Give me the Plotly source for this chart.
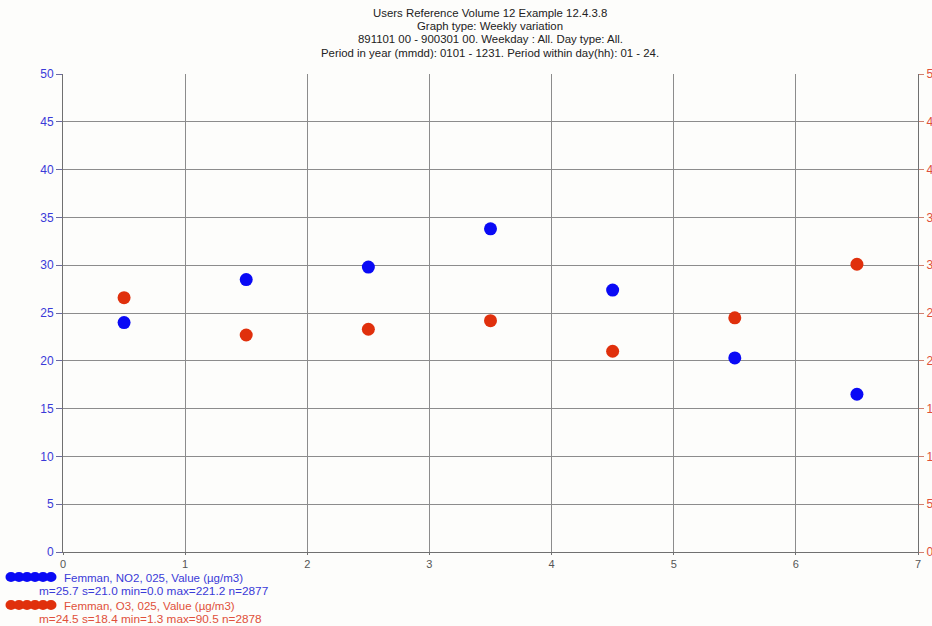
import plotly.graph_objects as go

# Weekly variation, day-of-week bins (centres at 0.5 .. 6.5)
day_pos = [0.5, 1.5, 2.5, 3.5, 4.5, 5.5, 6.5]
no2_values = [24.0, 28.5, 29.8, 33.8, 27.4, 20.3, 16.5]
o3_values = [26.6, 22.7, 23.3, 24.2, 21.0, 24.5, 30.1]

x_ticks = [0, 1, 2, 3, 4, 5, 6, 7]
y_ticks = [0, 5, 10, 15, 20, 25, 30, 35, 40, 45, 50]

title_lines = [
    "Users Reference Volume 12 Example 12.4.3.8",
    "Graph type: Weekly variation",
    "891101 00 - 900301 00. Weekday : All. Day type: All.",
    "Period in year (mmdd): 0101 - 1231. Period within day(hh): 01 - 24.",
]
legend_no2 = ["Femman, NO2, 025, Value (µg/m3)", "m=25.7 s=21.0 min=0.0 max=221.2 n=2877"]
legend_o3 = ["Femman, O3, 025, Value (µg/m3)", "m=24.5 s=18.4 min=1.3 max=90.5 n=2878"]

BLUE = "#0a0af5"
RED = "#e0300c"
BLUE_TXT = "#3a3ad8"
RED_TXT = "#e0503a"
W, H = 932, 626
ML, MR, MT, MB = 63, 14, 74, 74
PW, PH = W - ML - MR, H - MT - MB


def px(x):
    return (x - ML) / PW


def py(y):
    return (H - MB - y) / PH


fig = go.Figure()
fig.add_trace(go.Scatter(x=day_pos, y=no2_values, mode="markers",
                         marker=dict(color=BLUE, size=13), yaxis="y", showlegend=False))
fig.add_trace(go.Scatter(x=day_pos, y=o3_values, mode="markers",
                         marker=dict(color=RED, size=13), yaxis="y2", showlegend=False))

annotations = []
for i, line in enumerate(title_lines):
    annotations.append(dict(x=px(490), y=py(13 + i * 13.2), xref="paper", yref="paper",
                            text=line, showarrow=False, xanchor="center", yanchor="middle",
                            font=dict(size=11.4, color="#222222")))

shapes = []
legend_rows = [(legend_no2, BLUE, BLUE_TXT, 577, 578), (legend_o3, RED, RED_TXT, 605, 606)]
for (lines, color, tcolor, yb, yt) in legend_rows:
    for cx in range(11, 52, 8):
        shapes.append(dict(type="circle", xref="paper", yref="paper",
                           x0=px(cx - 5.5), x1=px(cx + 5.5), y0=py(yb - 5), y1=py(yb + 5),
                           fillcolor=color, line=dict(width=0), layer="above"))
    annotations.append(dict(x=px(62), y=py(yt), xref="paper", yref="paper", text=lines[0],
                            showarrow=False, xanchor="left", yanchor="middle",
                            font=dict(size=11.5, color=tcolor)))
    annotations.append(dict(x=px(37), y=py(yt + 12.5), xref="paper", yref="paper", text=lines[1],
                            showarrow=False, xanchor="left", yanchor="middle",
                            font=dict(size=11.8, color=tcolor)))

fig.update_layout(
    width=W, height=H,
    margin=dict(l=ML, r=MR, t=MT, b=MB),
    paper_bgcolor="#fdfdfb", plot_bgcolor="#fdfdfb",
    font=dict(family="Liberation Sans, Arial, sans-serif", size=11),
    xaxis=dict(range=[0, 7], tickvals=x_ticks, ticktext=[str(v) for v in x_ticks],
               showgrid=True, gridcolor="#8c8c8c", gridwidth=1, zeroline=False,
               showline=True, linecolor="#707070", linewidth=1, mirror=False,
               ticks="outside", ticklen=2, tickcolor="#707070", automargin=False,
               tickfont=dict(size=11, color="#555555")),
    yaxis=dict(range=[0, 50], tickvals=y_ticks, ticktext=[str(v) for v in y_ticks],
               showgrid=True, gridcolor="#8c8c8c", gridwidth=1, zeroline=False,
               showline=True, linecolor="#707070", linewidth=1, automargin=False,
               ticks="outside", ticklen=6, tickcolor="#6a6aa0",
               tickfont=dict(size=12, color=BLUE_TXT)),
    yaxis2=dict(range=[0, 50], tickvals=y_ticks, ticktext=[str(v) for v in y_ticks],
                overlaying="y", side="right", showgrid=False, zeroline=False,
                showline=True, linecolor="#707070", linewidth=1, automargin=False,
                ticks="outside", ticklen=5, tickcolor="#d08070",
                tickfont=dict(size=12, color=RED_TXT)),
    annotations=annotations,
    shapes=shapes,
)

fig.write_html("out.html")
